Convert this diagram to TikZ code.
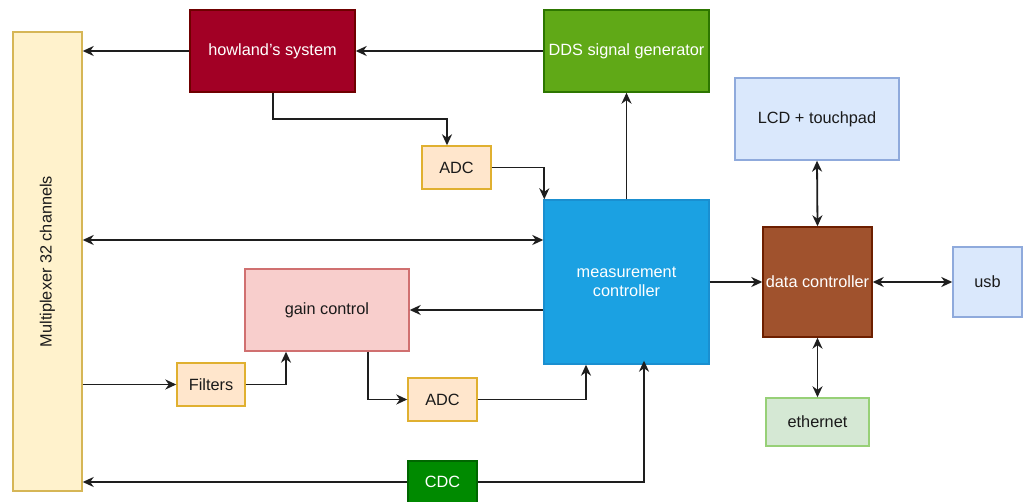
\documentclass[tikz,border=0pt]{standalone}
\usepackage{fontspec}
\setmainfont{Liberation Sans}
\usetikzlibrary{arrows.meta}

\definecolor{muxfill}{HTML}{FFF2CC}\definecolor{muxdraw}{HTML}{D6B656}
\definecolor{howfill}{HTML}{A20025}\definecolor{howdraw}{HTML}{6F0000}
\definecolor{ddsfill}{HTML}{60A917}\definecolor{ddsdraw}{HTML}{2D7600}
\definecolor{adcfill}{HTML}{FFE6CC}\definecolor{adcdraw}{HTML}{E0B030}
\definecolor{mcfill}{HTML}{1BA1E2}\definecolor{mcdraw}{HTML}{1A8FD0}
\definecolor{bluefill}{HTML}{DAE8FC}\definecolor{bluedraw}{HTML}{8FAADC}
\definecolor{dcfill}{HTML}{A0522D}\definecolor{dcdraw}{HTML}{6D1F00}
\definecolor{ethfill}{HTML}{D5E8D4}\definecolor{ethdraw}{HTML}{97D077}
\definecolor{gainfill}{HTML}{F8CECC}\definecolor{gaindraw}{HTML}{D07070}
\definecolor{cdcfill}{HTML}{008A00}\definecolor{cdcdraw}{HTML}{006600}
\definecolor{txt}{HTML}{1A1A1A}
\definecolor{wire}{HTML}{1E1E1E}

\begin{document}
\begin{tikzpicture}[x=1pt,y=-1pt,
  font=\fontsize{16.3}{19}\selectfont,
  blk/.style={rectangle, line width=1.4pt, inner sep=0pt, align=center, text=txt},
  darkblk/.style={blk, text=white},
  wirearrow/.style={draw=wire, line width=1.8pt, -{Stealth[length=11pt,width=10pt,inset=3.5pt]}},
  wireboth/.style={draw=wire, line width=1.8pt, {Stealth[length=11pt,width=10pt,inset=3.5pt]}-{Stealth[length=11pt,width=10pt,inset=3.5pt]}}
]
\useasboundingbox (0,0) rectangle (1029,502);

% blocks
\node[blk, fill=muxfill, draw=muxdraw, minimum width=69pt, minimum height=459pt] (mux) at (47.5,261.5) {};
\node[rotate=90, text=txt] (muxlabel) at (47.5,261.5) {Multiplexer 32 channels};
\node[darkblk, fill=howfill, draw=howdraw, minimum width=165pt, minimum height=82pt] (how) at (272.5,51) {howland's system};
\node[darkblk, fill=ddsfill, draw=ddsdraw, minimum width=165pt, minimum height=82pt] (dds) at (626.5,51) {DDS signal generator};
\node[blk, fill=adcfill, draw=adcdraw, minimum width=69pt, minimum height=43pt] (adcA) at (456.5,167.5) {ADC};
\node[darkblk, fill=mcfill, draw=mcdraw, minimum width=165pt, minimum height=164pt] (mc) at (626.5,282) {measurement\\controller};
\node[blk, fill=bluefill, draw=bluedraw, minimum width=164pt, minimum height=82pt] (lcd) at (817,119) {LCD + touchpad};
\node[darkblk, fill=dcfill, draw=dcdraw, minimum width=109pt, minimum height=110pt] (dc) at (817.5,282) {data controller};
\node[blk, fill=bluefill, draw=bluedraw, minimum width=69pt, minimum height=70pt] (usb) at (987.5,282) {usb};
\node[blk, fill=ethfill, draw=ethdraw, minimum width=103pt, minimum height=48pt] (eth) at (817.5,422) {ethernet};
\node[blk, fill=gainfill, draw=gaindraw, minimum width=164pt, minimum height=82pt] (gain) at (327,310) {gain control};
\node[blk, fill=adcfill, draw=adcdraw, minimum width=68pt, minimum height=43pt] (filt) at (211,384.5) {Filters};
\node[blk, fill=adcfill, draw=adcdraw, minimum width=69pt, minimum height=43pt] (adcB) at (442.5,399.5) {ADC};
\node[darkblk, fill=cdcfill, draw=cdcdraw, minimum width=69pt, minimum height=42pt] (cdc) at (442.5,482) {CDC};

% bend points
\coordinate (howdrop) at (273,119);
\coordinate (bus) at (0,240);

% connectors
\draw[wirearrow] (dds.west) -- (how.east);
\draw[wirearrow] (how.west) -- (mux.east |- how.west);
\draw[wirearrow] (how.south -| howdrop) -- (howdrop) -| ([xshift=-9.5pt]adcA.north);
\draw[wirearrow] (adcA.east) -| ([xshift=1pt]mc.north west);
\draw[wirearrow] (mc.north) -- (dds.south);
\draw[wireboth] (mux.east |- bus) -- (mc.west |- bus);
\draw[wirearrow] (mc.west |- gain.east) -- (gain.east);
\draw[wirearrow] (mux.east |- filt.west) -- (filt.west);
\draw[wirearrow] (filt.east) -| ([xshift=-41pt]gain.south);
\draw[wirearrow] ([xshift=41pt]gain.south) |- (adcB.west);
\draw[wirearrow] (adcB.east) -| ([xshift=-40.5pt]mc.south);
\draw[wirearrow] (cdc.east) -| ([xshift=17.5pt,yshift=4pt]mc.south);
\draw[wirearrow] (cdc.west) -- (mux.east |- cdc.west);
\draw[wirearrow] (mc.east) -- (dc.west);
\draw[wireboth] (lcd.south) -- (dc.north);
\draw[wireboth] (dc.east) -- (usb.west);
\draw[wireboth] (dc.south) -- (eth.north);
\end{tikzpicture}
\end{document}
